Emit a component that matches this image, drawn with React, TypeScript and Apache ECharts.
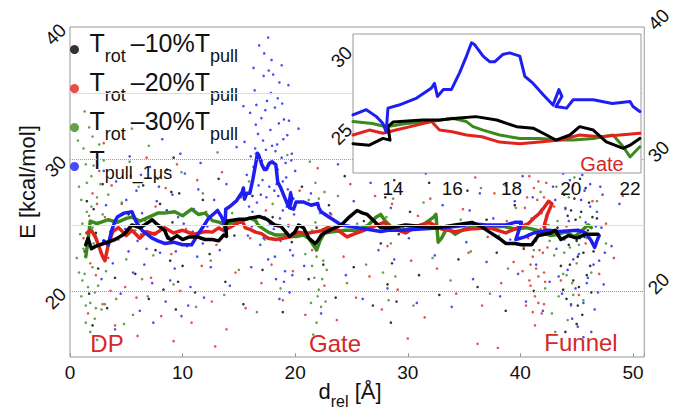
import React, { useEffect, useRef } from "react";
import * as echarts from "echarts";

const FONT = "'Liberation Sans', Arial, Helvetica, sans-serif";

const seriesNames = ["rot10", "rot20", "rot30", "pull1us"];
const seriesColors = ["#000000", "#e0241d", "#3b8a1d", "#1e1ef2"];
const legendText = [
  "{m|T}{s|rot }{m|–10%T}{s|pull}",
  "{m|T}{s|rot }{m|–20%T}{s|pull}",
  "{m|T}{s|rot }{m|–30%T}{s|pull}",
  "{m|T}{s|pull_1μs}",
];
const regionLabels = ["DP", "Gate", "Funnel"];
const insetLabel = "Gate";

const mainXTickLabels = [0, 10, 20, 30, 40, 50];
const mainYTickLabels = [20, 30, 40];
const insetXTickLabels = [14, 16, 18, 20, 22];
const insetYTickLabels = [25, 30];
const mainMajorGrid = [20, 30];
const mainMinorGrid = [25, 35];
const insetMajorGrid = [25, 30];
const insetMinorGrid = [22.5, 27.5];

// ---- scatter clouds (flat x,y lists) ----
const dotsBlack = [
  1.3,23.0, 1.7,19.8, 2.1,26.2, 2.5,21.7, 2.9,28.1, 3.3,18.7, 3.6,24.5, 4.0,21.0, 2.0,17.4,
  5.2,25.8, 5.8,21.3, 6.5,28.0, 7.0,19.4, 7.6,23.1, 8.0,26.6, 8.3,20.1, 8.6,29.2, 8.9,22.3, 9.1,25.2,
  9.4,18.6, 9.7,27.4, 10.0,21.9, 10.5,24.4, 11.1,19.9, 11.8,26.9, 12.4,22.8, 13.2,28.5, 13.8,20.7, 9.2,30.1,
  14.6,24.2, 15.4,19.0, 16.2,27.2, 17.1,21.6, 18.0,25.6, 18.9,18.4, 19.7,23.7, 20.6,27.9, 21.2,20.9,
  21.9,24.8, 22.5,22.0, 23.0,26.5, 23.6,19.5, 24.4,28.7, 25.2,21.8, 26.1,25.3, 26.9,18.9,
  27.6,23.6, 28.0,27.1, 28.2,20.5, 28.4,25.0, 28.6,22.1, 28.8,28.4, 29.0,19.2, 29.2,24.3, 28.5,17.6,
  30.2,26.0, 31.0,21.2, 31.9,28.2, 32.8,19.7, 33.6,24.6, 34.5,22.4, 35.3,27.6, 36.2,20.3, 37.0,25.4,
  37.9,22.9, 38.7,18.5, 39.5,26.5, 40.3,23.2, 41.2,20.0,
  43.3,24.8, 43.6,21.9, 43.9,27.3, 44.1,19.4, 44.3,23.5, 44.5,26.1, 44.7,20.8, 44.9,25.4, 45.1,22.6,
  45.3,28.5, 45.5,18.2, 45.7,24.1, 45.9,21.2, 46.1,26.7, 46.3,19.9, 46.5,23.0, 44.0,16.9, 45.0,17.5,
  44.6,29.8, 46.8,25.5,
  44.2,25.7, 44.4,22.0, 44.8,27.0, 45.0,23.8, 45.2,20.3, 45.4,26.0, 45.6,22.9, 45.8,27.8, 46.0,24.6,
  46.2,21.9, 46.4,25.6, 43.8,20.1, 45.1,18.9, 8.4,24.8, 9.0,27.5, 9.6,20.7, 2.3,24.4, 1.5,26.8,
];
const dotsRed = [
  1.2,24.0, 1.6,18.3, 2.0,27.4, 2.3,21.2, 2.6,29.1, 2.9,19.0, 3.1,25.6, 3.4,22.5, 3.7,28.0, 4.0,17.4,
  4.3,23.9, 4.6,26.6, 4.9,20.3, 3.0,31.2, 1.8,22.1, 3.6,20.0, 2.4,26.6,
  5.4,28.7, 5.9,19.5, 6.3,24.3, 6.8,30.1, 7.2,21.0, 7.6,26.4, 8.1,18.1, 8.5,27.8, 9.0,22.8, 9.5,29.6,
  9.8,20.0, 10.3,24.7, 10.8,17.6, 11.3,28.4, 11.7,21.9, 12.1,26.0, 12.6,19.2, 13.0,23.5, 13.5,29.0,
  13.9,17.1, 14.3,25.2, 14.7,21.4, 15.1,27.3, 15.6,18.7, 16.0,24.0, 16.5,30.4, 17.0,20.6, 17.4,26.1,
  17.9,22.0, 18.4,28.3, 18.9,19.3, 19.4,25.0, 19.8,21.5, 6.0,16.6, 9.2,16.2, 12.9,15.8,
  20.4,27.6, 20.9,18.2, 21.5,23.1, 22.0,29.3, 22.6,20.4, 23.2,25.8, 23.7,17.8, 24.3,22.6, 24.9,28.1,
  25.4,19.5, 26.0,24.9, 26.6,21.1, 27.1,27.2, 27.7,18.6, 28.2,23.4, 28.6,26.6, 29.1,20.1, 29.7,29.5,
  30.3,22.3, 30.9,25.7, 31.5,18.0, 32.0,27.0, 32.6,21.7, 33.2,24.4, 33.7,30.0, 34.3,19.8, 34.9,26.2,
  35.4,22.9, 36.0,28.6, 36.6,18.9, 37.1,24.1, 37.7,27.4, 38.3,20.6, 38.8,25.3, 39.4,22.2, 39.8,29.1,
  30.0,16.4, 36.2,16.0, 38.0,15.7,
  40.2,21.5, 40.4,26.3, 40.5,18.9, 40.7,24.0, 40.8,28.7, 40.9,20.4, 41.0,25.5, 41.1,22.6, 41.2,27.8,
  41.3,19.6, 41.4,23.8, 41.5,26.9, 41.6,21.1, 41.7,29.6, 41.8,24.7, 41.9,18.3, 42.0,22.9, 42.1,27.1,
  42.2,20.7, 42.3,25.0, 42.4,23.3, 40.6,30.4, 41.3,17.4, 41.8,31.2, 40.9,22.0, 41.5,24.3, 42.1,19.0,
  40.3,23.3, 40.6,27.1, 40.8,20.8, 41.0,29.2, 41.2,24.6, 41.4,21.7, 41.6,28.3, 41.7,23.1, 41.9,25.9,
  42.1,21.4, 42.3,28.2, 40.5,25.0, 41.1,18.4, 41.6,19.1,
  43.0,26.4, 43.6,20.8, 44.1,24.9, 44.7,28.0, 45.2,19.7, 45.8,23.6, 46.4,26.8, 47.0,21.3, 47.6,25.1,
  48.3,22.5, 49.1,27.2,
];
const dotsGreen = [
  0.6,22.5, 0.8,27.9, 1.0,19.6, 1.1,25.1, 1.2,30.8, 1.3,21.3, 1.4,17.6, 1.5,28.2, 1.6,23.7, 1.7,32.4,
  1.8,19.1, 1.9,26.4, 2.0,21.8, 2.1,29.5, 2.2,17.9, 2.3,24.2, 2.4,27.1, 2.5,20.4, 2.6,31.1, 2.7,22.9,
  2.8,18.6, 2.9,25.8, 3.0,29.9, 1.3,33.6, 0.9,24.3, 1.8,16.9, 2.2,19.9, 1.5,26.0, 2.6,23.3, 1.1,20.8,
  1.9,28.7, 0.7,31.4, 2.4,16.3, 3.2,21.5, 3.4,27.3,
  1.0,26.9, 1.2,23.2, 1.4,29.6, 1.6,20.3, 1.7,25.7, 2.0,31.7, 2.1,23.6, 2.3,18.7, 2.5,25.2, 2.7,28.1,
  1.4,18.9, 0.8,21.4, 2.0,24.8, 3.1,19.0,
  4.1,19.4, 4.6,26.7, 5.0,22.4, 5.3,29.8, 5.6,18.2, 5.8,24.6, 6.1,27.9, 6.4,20.9, 6.7,25.3, 7.0,31.0,
  7.4,22.7, 7.8,28.5, 4.8,17.5, 5.5,32.3, 6.9,19.6,
  8.6,26.1, 9.2,20.5, 9.9,29.0, 10.6,23.5, 11.2,18.8, 11.8,27.4, 12.5,22.3, 13.1,30.5, 13.7,19.7,
  14.4,25.9, 15.0,21.6, 15.9,28.3, 16.6,18.4, 17.3,23.9, 18.0,26.6, 18.7,20.2, 19.3,30.3, 20.1,24.3,
  20.9,22.8, 21.2,26.9, 21.4,19.1, 21.5,24.6, 21.7,21.0, 21.8,28.2, 21.9,17.6, 22.0,23.4, 22.1,20.1,
  22.2,25.9, 22.3,18.8, 22.5,22.3, 22.6,27.5, 22.8,21.6, 23.0,24.9, 21.6,16.7, 22.0,19.6, 21.3,29.8,
  21.5,21.9, 21.8,25.2, 22.1,27.0, 22.4,20.9, 21.9,22.6, 22.7,19.2,
  23.8,27.2, 24.6,20.6, 25.5,25.1, 26.3,22.0, 27.1,29.1, 27.8,21.4, 28.1,25.6, 28.3,19.3, 28.5,23.6,
  28.7,27.0, 28.9,21.1, 29.6,24.8, 30.5,18.9, 31.4,26.7, 32.2,22.5, 33.0,29.4, 33.8,20.8, 34.7,25.4,
  35.6,23.0, 36.5,27.8, 37.3,19.8, 38.1,24.2, 38.9,21.7, 39.6,26.3,
  41.2,23.1, 41.8,27.5, 42.2,20.2, 42.5,25.0, 42.8,18.3, 43.0,22.7, 43.2,27.9, 43.4,19.6, 43.6,24.5,
  43.8,21.3, 44.0,26.2, 44.2,17.8, 44.4,23.3, 44.6,20.6, 44.8,28.6, 45.0,22.1, 45.3,25.6, 45.6,19.3,
  45.9,24.0, 43.1,16.9, 43.7,29.5, 44.5,18.9, 42.6,23.8, 46.3,21.4, 46.8,26.8, 47.6,23.6,
  43.3,25.3, 43.9,22.9, 44.3,27.1, 44.7,19.7, 45.2,23.5, 44.1,21.2,
];
const dotsBlue = [
  3.2,26.5, 3.8,22.1, 4.1,28.3, 4.5,19.8, 4.9,24.7, 5.3,30.2, 5.6,21.4, 5.9,27.6, 6.2,18.5, 6.4,25.9,
  6.8,23.2, 7.1,29.4, 7.3,20.6, 7.7,26.8, 8.0,22.9, 8.2,31.5, 8.5,19.2, 8.8,24.1, 9.1,27.3, 9.3,21.7,
  9.6,25.6, 9.9,18.1, 10.2,28.9, 10.4,23.4, 10.7,20.3, 11.0,26.2, 11.3,22.6, 11.6,29.7, 11.9,19.5,
  12.2,24.9, 3.5,24.0, 5.0,26.9, 6.6,22.0, 7.9,27.9, 8.9,20.8, 10.1,25.1, 11.4,27.7, 12.5,21.8,
  4.3,25.3, 6.0,23.8, 7.5,24.4, 9.4,23.0, 10.9,24.5, 2.8,20.9, 3.0,29.1, 12.8,26.9, 13.3,23.1,
  13.9,28.1, 14.2,20.4,
  6.3,28.8, 7.4,17.6, 8.6,26.1, 9.8,30.4, 10.5,18.9, 11.8,23.6, 5.2,23.0, 4.0,17.1,
  15.2,27.1, 15.5,31.3, 15.8,24.2, 16.0,33.5, 16.1,21.8, 16.3,29.4, 16.4,35.2, 16.6,26.7, 16.7,31.9,
  16.8,38.6, 16.9,23.5, 17.0,33.1, 17.1,28.4, 17.2,36.3, 17.3,25.6, 17.4,30.7, 17.5,34.4, 17.6,22.4,
  17.7,27.9, 17.8,32.2, 17.9,37.5, 18.0,29.8, 18.1,24.7, 18.2,33.9, 18.3,20.9, 18.4,31.1, 18.5,27.2,
  18.6,35.8, 18.7,23.8, 18.8,30.1, 18.9,26.1, 19.0,33.0, 19.1,21.5, 19.2,28.6, 19.3,31.8, 19.4,24.9,
  19.5,19.9, 19.6,27.5, 19.7,30.4, 19.8,22.7, 19.9,25.8, 20.0,29.1, 15.7,28.8, 16.2,26.0, 16.5,32.6,
  17.05,29.9, 17.45,27.1, 17.85,35.0, 18.15,27.6, 18.45,29.2, 18.9,28.3, 19.25,26.4, 17.6,39.2,
  16.3,36.9, 18.8,37.1, 15.4,34.0, 19.4,35.6, 14.8,30.9, 20.3,32.3, 17.2,24.0, 18.2,22.6, 19.0,20.7,
  18.6,19.4,
  16.45,30.8, 16.75,28.0, 17.15,31.4, 17.35,33.7, 17.55,29.3, 17.75,25.1, 17.95,31.0, 18.05,36.4,
  18.25,30.6, 18.35,28.1, 18.55,32.7, 18.65,25.5, 18.85,34.2, 18.95,31.5, 19.05,24.3, 19.15,29.7,
  19.35,27.7, 19.45,32.9, 19.55,23.1, 19.65,29.9, 19.85,27.0, 16.05,30.2, 16.15,24.9, 16.55,34.1,
  16.95,27.3, 17.25,38.0, 17.65,36.7, 18.45,34.6, 19.75,21.2, 15.9,26.4,
  20.8,21.9, 21.4,27.4, 22.3,18.3, 23.1,25.9, 23.8,29.6, 24.5,21.2, 25.2,26.8, 26.0,19.4, 26.7,28.2,
  27.4,23.1, 27.9,30.1, 28.2,20.2, 28.5,26.3, 28.8,22.4, 29.3,27.8, 30.1,24.0, 30.8,19.1, 31.6,28.9,
  32.4,22.7, 33.1,26.5, 33.9,18.8, 34.6,29.3, 35.2,23.7, 35.5,26.1, 35.8,20.9, 36.4,27.4, 37.0,22.2,
  37.6,25.5, 38.2,19.6, 38.7,28.0, 39.1,23.9,
  39.5,26.8, 39.8,21.3, 40.2,28.7, 40.5,19.2, 40.8,24.3, 41.1,27.1, 41.4,22.0, 41.7,29.8, 42.0,18.5,
  42.3,25.7, 42.6,20.7, 42.9,27.9, 43.2,23.2, 43.5,30.6, 43.7,19.8, 44.0,26.3, 44.2,21.6, 44.4,28.4,
  44.6,17.9, 44.8,24.6, 45.0,29.5, 45.2,22.8, 45.4,26.9, 45.6,19.1, 45.8,25.2, 46.0,21.0, 46.2,28.1,
  46.4,23.6, 46.6,18.6, 46.8,26.0, 47.0,22.3, 47.2,24.8, 47.4,20.5, 45.1,17.3, 46.3,16.9, 44.1,31.2,
  45.7,27.6, 46.9,19.9, 43.9,23.9, 42.5,31.8, 41.9,26.2, 44.9,20.2, 46.1,25.0, 47.3,27.3, 48.1,23.4,
  48.8,26.6,
  43.1,26.9, 43.4,21.1, 43.8,28.9, 44.3,25.3, 44.7,22.4, 45.3,24.0, 45.5,28.8, 45.9,20.6, 46.2,26.4,
  46.5,22.0, 46.7,24.9, 47.1,27.9, 47.5,22.9, 45.6,16.5, 44.5,19.0,
];

// ---- running-average traces, main plot ----
const lineBlack = [
  1.4,23.5, 1.6,24.0, 1.9,23.2, 2.3,23.4, 3.0,23.6, 4.0,23.9, 4.8,24.3, 5.5,25.0, 6.2,24.8, 6.8,25.1,
  7.3,25.4, 7.8,25.0, 8.4,24.6, 8.7,24.0, 9.0,23.9, 9.5,24.2, 10.0,23.9, 10.6,24.1, 11.3,24.1, 12.0,23.9,
  12.65,23.9, 13.2,23.8, 13.66,24.24, 13.9,24.13, 13.83,25.0, 14.0,25.3, 15.0,25.43, 15.57,25.43,
  16.14,25.54, 16.8,25.65, 17.5,25.43, 18.17,25.0, 18.73,24.9, 19.18,24.46, 19.5,24.13, 19.97,24.46,
  20.3,25.0, 20.76,24.78, 21.2,24.02, 21.77,23.59, 22.0,23.8, 22.33,24.24, 22.6,24.4, 23.3,24.7,
  24.1,25.0, 24.8,25.6, 25.5,26.1, 26.0,25.9, 26.4,25.8, 27.0,25.3, 27.6,24.8, 28.5,24.8, 29.2,24.9,
  29.8,25.0, 31.0,24.9, 32.7,24.8, 34.2,25.0, 35.7,25.2, 36.5,24.9, 37.2,24.5, 38.1,24.0, 38.7,23.6,
  39.5,23.6, 40.1,23.5, 41.0,23.5, 41.6,24.2, 42.7,24.4, 43.1,24.6, 43.6,23.9, 44.3,24.2, 45.0,24.0,
  45.8,24.3, 46.9,24.3,
];
const lineRed = [
  1.5,24.4, 1.9,24.6, 2.3,24.0, 2.6,23.3, 2.9,22.6, 3.1,22.3, 3.4,23.5, 3.8,24.5, 4.3,24.8, 5.0,24.2,
  5.5,24.6, 6.2,24.0, 6.8,24.5, 7.5,24.3, 8.4,24.8, 9.2,24.4, 10.0,24.6, 11.0,24.3, 12.0,24.5,
  12.65,24.46, 13.2,24.78, 13.66,24.57, 14.1,24.78, 14.8,25.1, 15.3,25.33, 15.57,24.78, 16.0,24.67,
  16.48,24.46, 17.0,24.35, 17.6,24.0, 18.28,23.9, 18.95,24.0, 19.63,24.13, 20.3,24.46, 20.98,24.35,
  21.66,24.46, 22.33,24.57, 22.9,24.8, 23.8,24.6, 24.6,24.1, 25.2,24.3, 26.1,24.6, 27.0,24.9, 27.9,25.2,
  28.5,24.8, 29.8,24.4, 30.8,24.9, 31.9,25.2, 33.0,24.7, 34.2,24.5, 35.5,24.7, 37.2,24.8, 38.7,24.4,
  39.8,24.8, 40.7,25.1, 41.3,25.6, 41.6,25.8, 42.0,26.2, 42.5,26.8, 42.8,26.6, 42.4,25.8, 42.1,24.9,
  42.3,24.5,
];
const lineGreen = [
  1.4,22.6, 1.6,23.8, 1.8,25.3, 2.4,25.1, 3.4,25.4, 4.2,25.2, 5.0,25.5, 5.5,25.6, 6.2,25.3, 7.0,25.6,
  7.8,25.9, 8.4,25.9, 9.3,26.0, 10.0,25.7, 10.8,26.2, 11.4,25.8, 12.0,25.9, 12.65,25.33, 13.3,25.2,
  13.77,25.0, 14.45,25.2, 15.3,25.33, 16.0,25.54, 16.48,25.33, 16.7,25.0, 17.04,24.78, 17.6,24.46,
  18.28,24.24, 18.95,24.24, 19.63,24.13, 20.08,24.13, 20.76,24.24, 21.2,24.0, 21.6,23.5, 21.9,23.1,
  22.2,23.8, 22.6,24.4, 23.5,24.5, 24.5,24.6, 25.5,24.6, 26.5,25.0, 27.2,25.6, 27.6,25.8, 28.0,25.3,
  28.6,24.8, 29.5,24.6, 30.5,24.8, 31.5,25.1, 32.3,25.6, 32.5,25.8, 32.7,23.7, 33.0,24.0, 33.5,24.8,
  34.2,24.3, 35.0,24.7, 36.0,24.9, 37.2,24.8, 38.5,24.9, 39.5,24.7, 40.5,24.8, 41.5,24.6, 42.7,24.2,
  43.4,24.3, 44.0,24.5, 44.8,24.1, 45.5,24.6, 46.0,25.0, 46.3,24.8,
];
const lineBlue = [
  3.0,23.8, 3.4,23.5, 3.7,24.6, 4.0,25.3, 4.2,25.6, 4.8,25.9, 5.5,26.0, 5.9,25.2, 6.4,24.6, 7.0,24.2,
  7.3,24.0, 7.8,23.8, 8.4,23.6, 9.2,23.7, 10.0,23.5, 10.8,23.5, 11.3,24.2, 12.0,25.1, 12.3,25.5,
  12.65,25.76, 13.1,26.1, 13.44,25.65, 13.66,25.2, 13.77,24.67, 13.83,26.2, 14.2,26.4, 14.8,26.85,
  15.3,27.5, 15.4,27.8, 15.5,26.96, 15.7,27.4, 15.97,27.4, 16.25,28.5, 16.48,29.57, 16.65,30.43,
  16.76,30.3, 17.04,29.57, 17.27,29.2, 17.43,29.2, 17.7,29.67, 17.94,29.78, 18.28,29.57, 18.45,28.26,
  18.73,27.8, 19.07,27.07, 19.4,26.4, 19.6,27.4, 19.7,26.96, 19.5,26.3, 19.86,26.2, 20.08,26.74,
  20.76,26.74, 21.4,26.5, 22.0,26.63, 22.1,26.3, 22.33,25.98, 23.0,25.6, 24.1,25.0, 25.5,24.8,
  27.6,24.5, 28.3,24.6, 29.5,24.6, 31.2,24.7, 33.0,24.8, 34.5,24.9, 35.7,25.1, 37.0,25.0, 38.7,25.0,
  39.5,25.2, 40.1,25.2, 39.6,23.9, 40.4,24.1, 41.2,24.4, 42.5,24.6, 43.5,24.5, 45.1,24.6, 45.8,24.4,
  46.3,23.8, 46.6,23.3, 46.8,23.8, 47.0,24.2,
];

// ---- inset traces (zoom on the gate region) ----
const insetBlack = [
  12.65,23.9, 13.2,23.8, 13.66,24.24, 13.9,24.13, 13.83,25.0, 14.0,25.3, 15.0,25.43, 15.57,25.43,
  16.14,25.54, 16.8,25.65, 17.5,25.43, 18.17,25.0, 18.73,24.9, 19.18,24.46, 19.5,24.13, 19.97,24.46,
  20.3,25.0, 20.76,24.78, 21.2,24.02, 21.77,23.59, 22.0,23.8, 22.33,24.24,
];
const insetRed = [
  12.65,24.46, 13.2,24.78, 13.66,24.57, 14.1,24.78, 14.8,25.1, 15.3,25.33, 15.57,24.78, 16.0,24.67,
  16.48,24.46, 17.0,24.35, 17.6,24.0, 18.28,23.9, 18.95,24.0, 19.63,24.13, 20.3,24.46, 20.98,24.35,
  21.66,24.46, 22.33,24.57,
];
const insetGreen = [
  12.65,25.33, 13.3,25.2, 13.77,25.0, 14.45,25.2, 15.3,25.33, 16.0,25.54, 16.48,25.33, 16.7,25.0,
  17.04,24.78, 17.6,24.46, 18.28,24.24, 18.95,24.24, 19.63,24.13, 20.08,24.13, 20.76,24.24,
  21.43,24.46, 21.77,23.7, 22.0,23.04, 22.33,23.7,
];
const insetBlue = [
  12.65,25.76, 13.1,26.1, 13.44,25.65, 13.66,25.2, 13.77,24.67, 13.83,26.2, 14.2,26.4, 14.8,26.85,
  15.3,27.5, 15.4,27.8, 15.5,26.96, 15.7,27.4, 15.97,27.4, 16.25,28.5, 16.48,29.57, 16.65,30.43,
  16.76,30.3, 17.04,29.57, 17.27,29.2, 17.43,29.2, 17.7,29.67, 17.94,29.78, 18.28,29.57, 18.45,28.26,
  18.73,27.8, 19.07,27.07, 19.4,26.4, 19.6,27.4, 19.7,26.96, 19.5,26.3, 19.86,26.2, 20.08,26.74,
  20.76,26.74, 21.4,26.5, 22.0,26.63, 22.1,26.3, 22.33,25.98,
];

const pairs = (a: number[]) => {
  const r: number[][] = [];
  for (let i = 0; i + 1 < a.length; i += 2) r.push([a[i], a[i + 1]]);
  return r;
};

const dotSets = [dotsBlack, dotsRed, dotsGreen, dotsBlue];
const mainLines = [lineGreen, lineRed, lineBlue, lineBlack];
const mainLineColors = [seriesColors[2], seriesColors[1], seriesColors[3], seriesColors[0]];
const insetLines = [insetGreen, insetRed, insetBlack, insetBlue];
const insetLineColors = [seriesColors[2], seriesColors[1], seriesColors[0], seriesColors[3]];

const isInt = (v: number) => Math.abs(v - Math.round(v)) < 1e-6;

function buildOption() {
  const series: any[] = [];
  series.push({
    type: "line",
    xAxisIndex: 0,
    yAxisIndex: 0,
    data: [],
    z: 1,
    silent: true,
    markLine: {
      silent: true,
      symbol: ["none", "none"],
      label: { show: false },
      data: [
        ...mainMajorGrid.map((v) => ({ yAxis: v, lineStyle: { color: "#9a9a9a", type: "dotted", width: 1 } })),
        ...mainMinorGrid.map((v) => ({ yAxis: v, lineStyle: { color: "#dddddd", type: "solid", width: 1 } })),
      ],
    },
  });
  dotSets.forEach((d, i) => {
    series.push({
      name: seriesNames[i],
      type: "scatter",
      xAxisIndex: 0,
      yAxisIndex: 0,
      data: pairs(d),
      symbol: "circle",
      symbolSize: 2.6,
      itemStyle: { color: seriesColors[i] },
      z: 2,
    });
  });
  mainLines.forEach((d, i) => {
    series.push({
      type: "line",
      xAxisIndex: 0,
      yAxisIndex: 0,
      data: pairs(d),
      showSymbol: false,
      symbol: "none",
      lineStyle: { color: mainLineColors[i], width: 3.5, join: "round", cap: "round" },
      itemStyle: { color: mainLineColors[i] },
      z: 3,
      silent: true,
    });
  });
  series.push({
    type: "line",
    xAxisIndex: 2,
    yAxisIndex: 2,
    data: [],
    z: 11,
    silent: true,
    markLine: {
      silent: true,
      symbol: ["none", "none"],
      label: { show: false },
      data: [
        ...insetMajorGrid.map((v) => ({ yAxis: v, lineStyle: { color: "#9a9a9a", type: "dotted", width: 1 } })),
        ...insetMinorGrid.map((v) => ({ yAxis: v, lineStyle: { color: "#dddddd", type: "solid", width: 1 } })),
      ],
    },
  });
  insetLines.forEach((d, i) => {
    series.push({
      type: "line",
      xAxisIndex: 2,
      yAxisIndex: 2,
      data: pairs(d),
      showSymbol: false,
      symbol: "none",
      lineStyle: { color: insetLineColors[i], width: 3, join: "round", cap: "round" },
      itemStyle: { color: insetLineColors[i] },
      z: 12,
      silent: true,
    });
  });

  const tickLabel = { fontFamily: FONT, fontSize: 19, color: "#111" };

  return {
    animation: false,
    backgroundColor: "#ffffff",
    textStyle: { fontFamily: FONT },
    grid: [
      { left: 70, right: 27, top: 27, bottom: 55, show: true, borderColor: "#999", borderWidth: 1, backgroundColor: "transparent", z: 0 },
      { left: 353, top: 34, width: 288, height: 139, show: true, borderColor: "#999", borderWidth: 1, backgroundColor: "#ffffff", z: 10 },
    ],
    xAxis: [
      {
        type: "value", gridIndex: 0, min: 0, max: 51, interval: 10,
        axisLine: { show: false },
        axisTick: { show: true, inside: true, length: 4, lineStyle: { color: "#999" } },
        splitLine: { show: false },
        axisLabel: { ...tickLabel, margin: 6, formatter: (v: number) => (mainXTickLabels.includes(v) ? String(v) : "") },
      },
      {
        type: "value", gridIndex: 0, min: 0, max: 51, position: "top", show: false,
      },
      {
        type: "value", gridIndex: 1, min: 12.65, max: 22.37, z: 11,
        axisLine: { show: false },
        axisTick: { show: false },
        splitLine: { show: false },
        axisLabel: { ...tickLabel, margin: 6, formatter: (v: number) => (isInt(v) && insetXTickLabels.includes(Math.round(v)) ? String(Math.round(v)) : "") },
      },
    ],
    yAxis: [
      {
        type: "value", gridIndex: 0, min: 15, max: 40, interval: 5,
        axisLine: { show: false }, axisTick: { show: false }, splitLine: { show: false },
        axisLabel: { ...tickLabel, rotate: 45, margin: 7, formatter: (v: number) => (mainYTickLabels.includes(v) ? String(v) : "") },
      },
      {
        type: "value", gridIndex: 0, min: 15, max: 40, interval: 5, position: "right",
        axisLine: { show: false }, axisTick: { show: false }, splitLine: { show: false },
        axisLabel: { ...tickLabel, rotate: 45, margin: 7, formatter: (v: number) => (mainYTickLabels.includes(v) ? String(v) : "") },
      },
      {
        type: "value", gridIndex: 1, min: 22, max: 31, interval: 1, z: 11,
        axisLine: { show: false }, axisTick: { show: false }, splitLine: { show: false },
        axisLabel: { ...tickLabel, rotate: 45, margin: 4, formatter: (v: number) => (insetYTickLabels.includes(v) ? String(v) : "") },
      },
    ],
    legend: {
      data: seriesNames,
      orient: "vertical",
      left: 70,
      top: 30,
      padding: 0,
      itemGap: 0,
      icon: "circle",
      itemWidth: 20,
      itemHeight: 9,
      selectedMode: false,
      z: 5,
      formatter: (n: string) => legendText[seriesNames.indexOf(n)],
      textStyle: {
        color: "#111",
        rich: {
          m: { fontFamily: FONT, fontSize: 25, color: "#111", lineHeight: 36, padding: [0, 0, 14, 0] },
          s: { fontFamily: FONT, fontSize: 18, color: "#111", lineHeight: 36, padding: [12, 0, 0, 0] },
        },
      },
    },
    graphic: [
      {
        type: "text", x: 27, y: 182, rotation: Math.PI / 2, z: 20,
        style: { text: "E [kcal/mol]", font: `22px ${FONT}`, fill: "#111", textAlign: "center", textVerticalAlign: "middle" },
      },
      {
        type: "text", x: 350, y: 396, z: 20,
        style: {
          text: "{m|d}{s|rel}{m| [Å]}",
          font: `22px ${FONT}`, fill: "#111", textAlign: "center", textVerticalAlign: "middle",
          rich: {
            m: { fontFamily: FONT, fontSize: 22, fill: "#111", lineHeight: 30, padding: [0, 0, 10, 0] },
            s: { fontFamily: FONT, fontSize: 16, fill: "#111", lineHeight: 30, padding: [10, 0, 0, 0] },
          },
        },
      },
      {
        type: "text", x: 107, y: 343, z: 20,
        style: { text: regionLabels[0], font: `24px ${FONT}`, fill: "#d4282a", textAlign: "center", textVerticalAlign: "middle" },
      },
      {
        type: "text", x: 335, y: 343, z: 20,
        style: { text: regionLabels[1], font: `24px ${FONT}`, fill: "#d4282a", textAlign: "center", textVerticalAlign: "middle" },
      },
      {
        type: "text", x: 581, y: 342, z: 20,
        style: { text: regionLabels[2], font: `24px ${FONT}`, fill: "#d4282a", textAlign: "center", textVerticalAlign: "middle" },
      },
      {
        type: "text", x: 602, y: 164, z: 30,
        style: { text: insetLabel, font: `20px ${FONT}`, fill: "#d4282a", textAlign: "center", textVerticalAlign: "middle" },
      },
    ],
    series,
  };
}

export default function App() {
  const ref = useRef<HTMLDivElement>(null);
  useEffect(() => {
    if (!ref.current) return;
    const chart = echarts.init(ref.current, null, { renderer: "svg" });
    chart.setOption(buildOption() as any);
    return () => chart.dispose();
  }, []);
  return <div ref={ref} style={{ position: "fixed", left: 0, top: 0, width: 675, height: 412, background: "#fff" }} />;
}
